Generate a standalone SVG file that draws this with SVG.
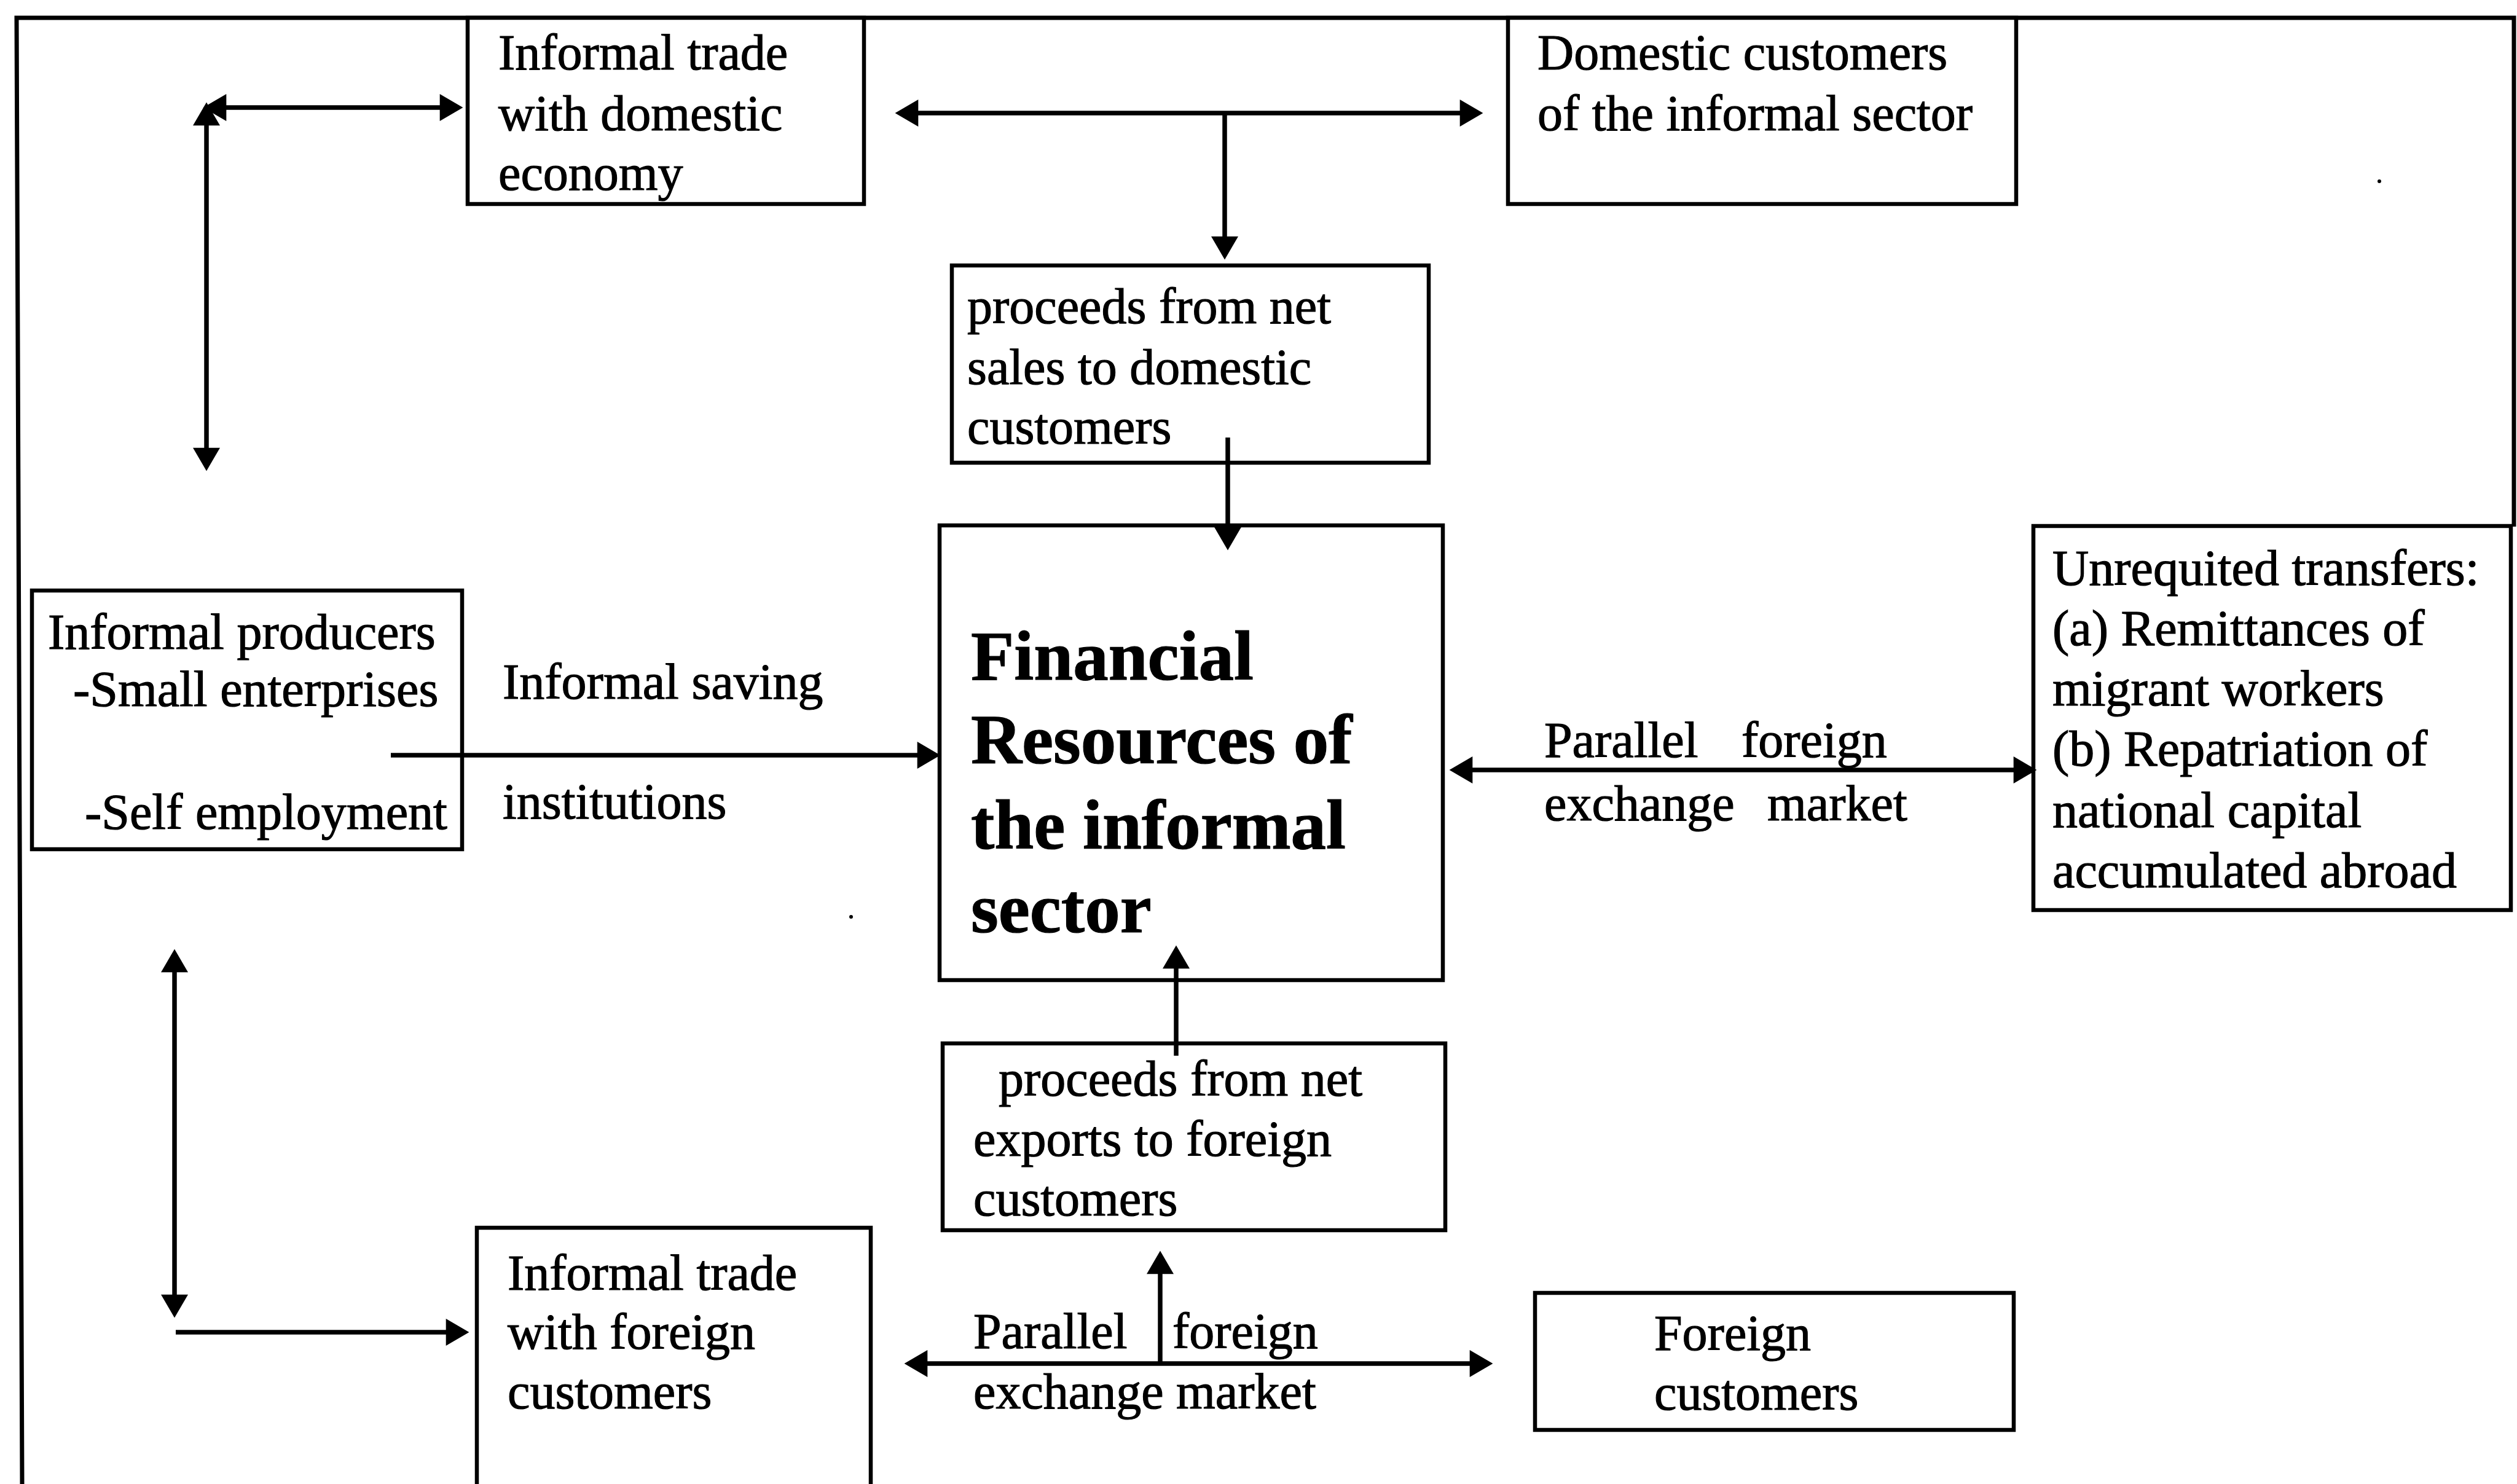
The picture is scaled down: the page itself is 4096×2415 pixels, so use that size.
<svg xmlns="http://www.w3.org/2000/svg" width="4096" height="2415" viewBox="0 0 4096 2415">
<style>
.box{fill:#fff;stroke:#000;stroke-width:6.5}
.frame{fill:none;stroke:#000;stroke-width:7}
.con{fill:none;stroke:#000;stroke-width:7.5}
text{font-family:"Liberation Serif","Times New Roman",serif;font-size:82px;fill:#000;stroke:#000;stroke-width:1.2}
.big{font-size:115px;font-weight:bold}
</style>
<defs>
<marker id="ah" markerUnits="userSpaceOnUse" markerWidth="40" markerHeight="44" viewBox="0 0 36 42" refX="6" refY="21" orient="auto-start-reverse">
<path d="M0,0 L36,21 L0,42 z" fill="#000"/>
</marker>
</defs>
<rect width="4096" height="2415" fill="#fff"/>
<g id="frame">
<path class="frame" d="M36,2415 L27,29 L4091,29 L4091,857"/>
</g>
<g id="n-trade-domestic">
<rect class="box" x="761" y="29" width="645" height="303"/>
<text x="811" y="113">Informal trade</text>
<text x="811" y="212">with domestic</text>
<text x="811" y="309">economy</text>
</g>
<g id="n-domestic-customers">
<rect class="box" x="2454" y="29" width="827" height="303"/>
<text x="2502" y="113">Domestic customers</text>
<text x="2502" y="212">of the informal sector</text>
</g>
<g id="n-proceeds-domestic">
<rect class="box" x="1549" y="432" width="776" height="321"/>
<text x="1574" y="526">proceeds from net</text>
<text x="1574" y="625">sales to domestic</text>
<text x="1574" y="722">customers</text>
</g>
<g id="n-financial">
<rect class="box" x="1529" y="855" width="819" height="740"/>
<text class="big" x="1580" y="1106">Financial</text>
<text class="big" x="1580" y="1242">Resources of</text>
<text class="big" x="1580" y="1381">the informal</text>
<text class="big" x="1580" y="1517">sector</text>
</g>
<g id="n-producers">
<rect class="box" x="52" y="961" width="700" height="421"/>
<text x="78" y="1056">Informal producers</text>
<text x="119" y="1149">-Small enterprises</text>
<text x="138" y="1349">-Self employment</text>
</g>
<g id="n-unrequited">
<rect class="box" x="3309" y="856" width="777" height="625"/>
<text x="3340" y="952">Unrequited transfers:</text>
<text x="3340" y="1050">(a) Remittances of</text>
<text x="3340" y="1148">migrant workers</text>
<text x="3340" y="1246">(b) Repatriation of</text>
<text x="3340" y="1346">national capital</text>
<text x="3340" y="1444">accumulated abroad</text>
</g>
<g id="n-proceeds-exports">
<rect class="box" x="1534" y="1698" width="818" height="304"/>
<text x="1625" y="1783">proceeds from net</text>
<text x="1584" y="1881">exports to foreign</text>
<text x="1584" y="1978">customers</text>
</g>
<g id="n-trade-foreign">
<path class="box" d="M776,2420 L776,1998 L1417,1998 L1417,2420"/>
<text x="826" y="2099">Informal trade</text>
<text x="826" y="2195">with foreign</text>
<text x="826" y="2292">customers</text>
</g>
<g id="n-foreign-customers">
<rect class="box" x="2498" y="2104" width="779" height="223"/>
<text x="2692" y="2197">Foreign</text>
<text x="2692" y="2294">customers</text>
</g>
<g id="connectors">
<line class="con" x1="336" y1="198" x2="336" y2="735" marker-start="url(#ah)" marker-end="url(#ah)"/>
<line class="con" x1="362" y1="175" x2="722" y2="175" marker-start="url(#ah)" marker-end="url(#ah)"/>
<line class="con" x1="1488" y1="184" x2="2382" y2="184" marker-start="url(#ah)" marker-end="url(#ah)"/>
<line class="con" x1="1993" y1="184" x2="1993" y2="391" marker-end="url(#ah)"/>
<line class="con" x1="1998" y1="712" x2="1998" y2="864" marker-end="url(#ah)"/>
<line class="con" x1="636" y1="1229" x2="1499" y2="1229" marker-end="url(#ah)"/>
<line class="con" x1="2390" y1="1253" x2="3283" y2="1253" marker-start="url(#ah)" marker-end="url(#ah)"/>
<line class="con" x1="1914" y1="1718" x2="1914" y2="1570" marker-end="url(#ah)"/>
<line class="con" x1="1888" y1="2219" x2="1888" y2="2067" marker-end="url(#ah)"/>
<line class="con" x1="1503" y1="2219" x2="2398" y2="2219" marker-start="url(#ah)" marker-end="url(#ah)"/>
<line class="con" x1="284" y1="1576" x2="284" y2="2113" marker-start="url(#ah)" marker-end="url(#ah)"/>
<line class="con" x1="286" y1="2168" x2="732" y2="2168" marker-end="url(#ah)"/>
</g>
<g id="labels">
<text x="818" y="1137">Informal saving</text>
<text x="818" y="1332">institutions</text>
<text x="2513" y="1232"><tspan>Parallel </tspan><tspan x="2834">foreign</tspan></text>
<text x="2513" y="1335"><tspan>exchange </tspan><tspan x="2876">market</tspan></text>
<text x="1584" y="2194"><tspan>Parallel </tspan><tspan x="1908">foreign</tspan></text>
<text x="1584" y="2292">exchange market</text>
</g>
<g id="specks">
<circle cx="1385" cy="1492" r="3"/>
<circle cx="3872" cy="295" r="3"/>
</g>
</svg>
